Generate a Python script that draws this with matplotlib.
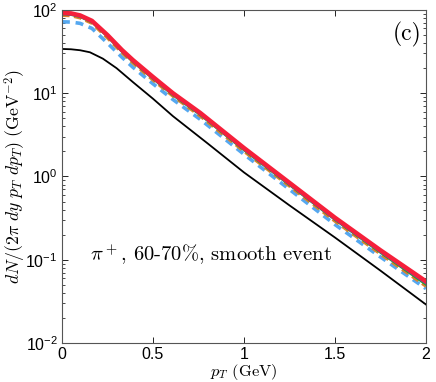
import matplotlib
matplotlib.use("Agg")
import matplotlib.pyplot as plt
import numpy as np
from matplotlib.ticker import LogLocator, NullFormatter

plt.rcParams['font.family'] = ['Liberation Sans', 'DejaVu Sans']
plt.rcParams['mathtext.fontset'] = 'custom'
plt.rcParams['mathtext.rm'] = 'Liberation Sans'
plt.rcParams['mathtext.it'] = 'Liberation Sans:italic'

# data
pt_red = [0.0, 0.05, 0.1, 0.165, 0.25, 0.33, 0.39, 0.5, 0.61, 0.76, 1.0, 1.25, 1.5, 1.75, 2.0]
red = [92, 91, 86, 74, 50, 33, 25, 15.7, 10.0, 5.8, 2.2, 0.84, 0.32, 0.13, 0.055]
purple = [89, 88, 83, 71.5, 48, 31.6, 24, 15.0, 9.6, 5.55, 2.1, 0.80, 0.305, 0.124, 0.052]
green = [88, 87, 82, 70.5, 47.5, 31.2, 23.6, 14.8, 9.4, 5.45, 2.06, 0.785, 0.30, 0.121, 0.050]
orange = [86, 85, 80, 69, 46, 30.5, 23.0, 14.4, 9.2, 5.3, 2.0, 0.765, 0.29, 0.117, 0.048]
blue = [72, 71.5, 69, 60, 40, 27, 20.5, 13.0, 8.4, 4.85, 1.85, 0.70, 0.265, 0.108, 0.045]

pt_black = [0.0, 0.05, 0.1, 0.154, 0.225, 0.3, 0.39, 0.5, 0.61, 0.8, 1.0, 1.25, 1.5, 1.75, 2.0]
black = [34, 33.7, 32.8, 31, 26, 20, 13.6, 8.6, 5.3, 2.5, 1.12, 0.45, 0.185, 0.074, 0.029]

xticks = [0, 0.5, 1, 1.5, 2]
xticklabels = ['0', '0.5', '1', '1.5', '2']

fig = plt.figure(figsize=(4.36, 3.82), dpi=100)
ax = fig.add_axes([0.142, 0.102, 0.835, 0.872])

ax.plot(pt_black, black, color='black', lw=1.3)
ax.plot(pt_red, blue, color='#55a8f0', lw=2.6, ls=(0, (2.2, 1.6)))
ax.plot(pt_red, orange, color='#e0802a', lw=2.2, ls=(0, (2.5, 1.5)))
ax.plot(pt_red, green, color='#2ca02c', lw=1.4)
ax.plot(pt_red, purple, color='#7030d0', lw=1.4)
ax.plot(pt_red, red, color='#f5203a', lw=3.2)

ax.set_yscale('log')
ax.set_xlim(0, 2)
ax.set_ylim(1e-2, 1e2)
ax.set_xticks(xticks)
ax.set_xticklabels(xticklabels)
ax.yaxis.set_major_locator(LogLocator(base=10, numticks=10))
ax.yaxis.set_minor_locator(LogLocator(base=10, subs=np.arange(2, 10), numticks=20))
ax.yaxis.set_minor_formatter(NullFormatter())
ax.tick_params(which='both', direction='in', top=True, right=True, labelsize=11.5)
ax.tick_params(which='major', length=4, width=0.6, pad=3)
ax.tick_params(which='minor', length=2, width=0.5)
for s in ax.spines.values():
    s.set_color('#555555')
    s.set_linewidth(0.8)

ax.set_xlabel(r'$p_T$ (GeV)', family='cmr10', math_fontfamily='cm', fontsize=11.8, va='top')
ax.xaxis.set_label_coords(0.5, -0.056)
ax.set_ylabel(r'$dN/(2\pi\ dy\ p_T\ dp_T)\ (\mathrm{GeV}^{-2})$', math_fontfamily='cm',
              fontsize=12.8, va='center', ha='center')
ax.yaxis.set_label_coords(-0.128, 0.5)
ax.text(0.948, 0.925, '(c)', transform=ax.transAxes, family='cmr10', fontsize=17,
        ha='center', va='center')
ax.text(0.077, 0.265, r'$\pi^+$, 60-70%, smooth event', transform=ax.transAxes,
        family='cmr10', math_fontfamily='cm', fontsize=14.8, ha='left', va='center')

fig.savefig('out.png', dpi=100)
